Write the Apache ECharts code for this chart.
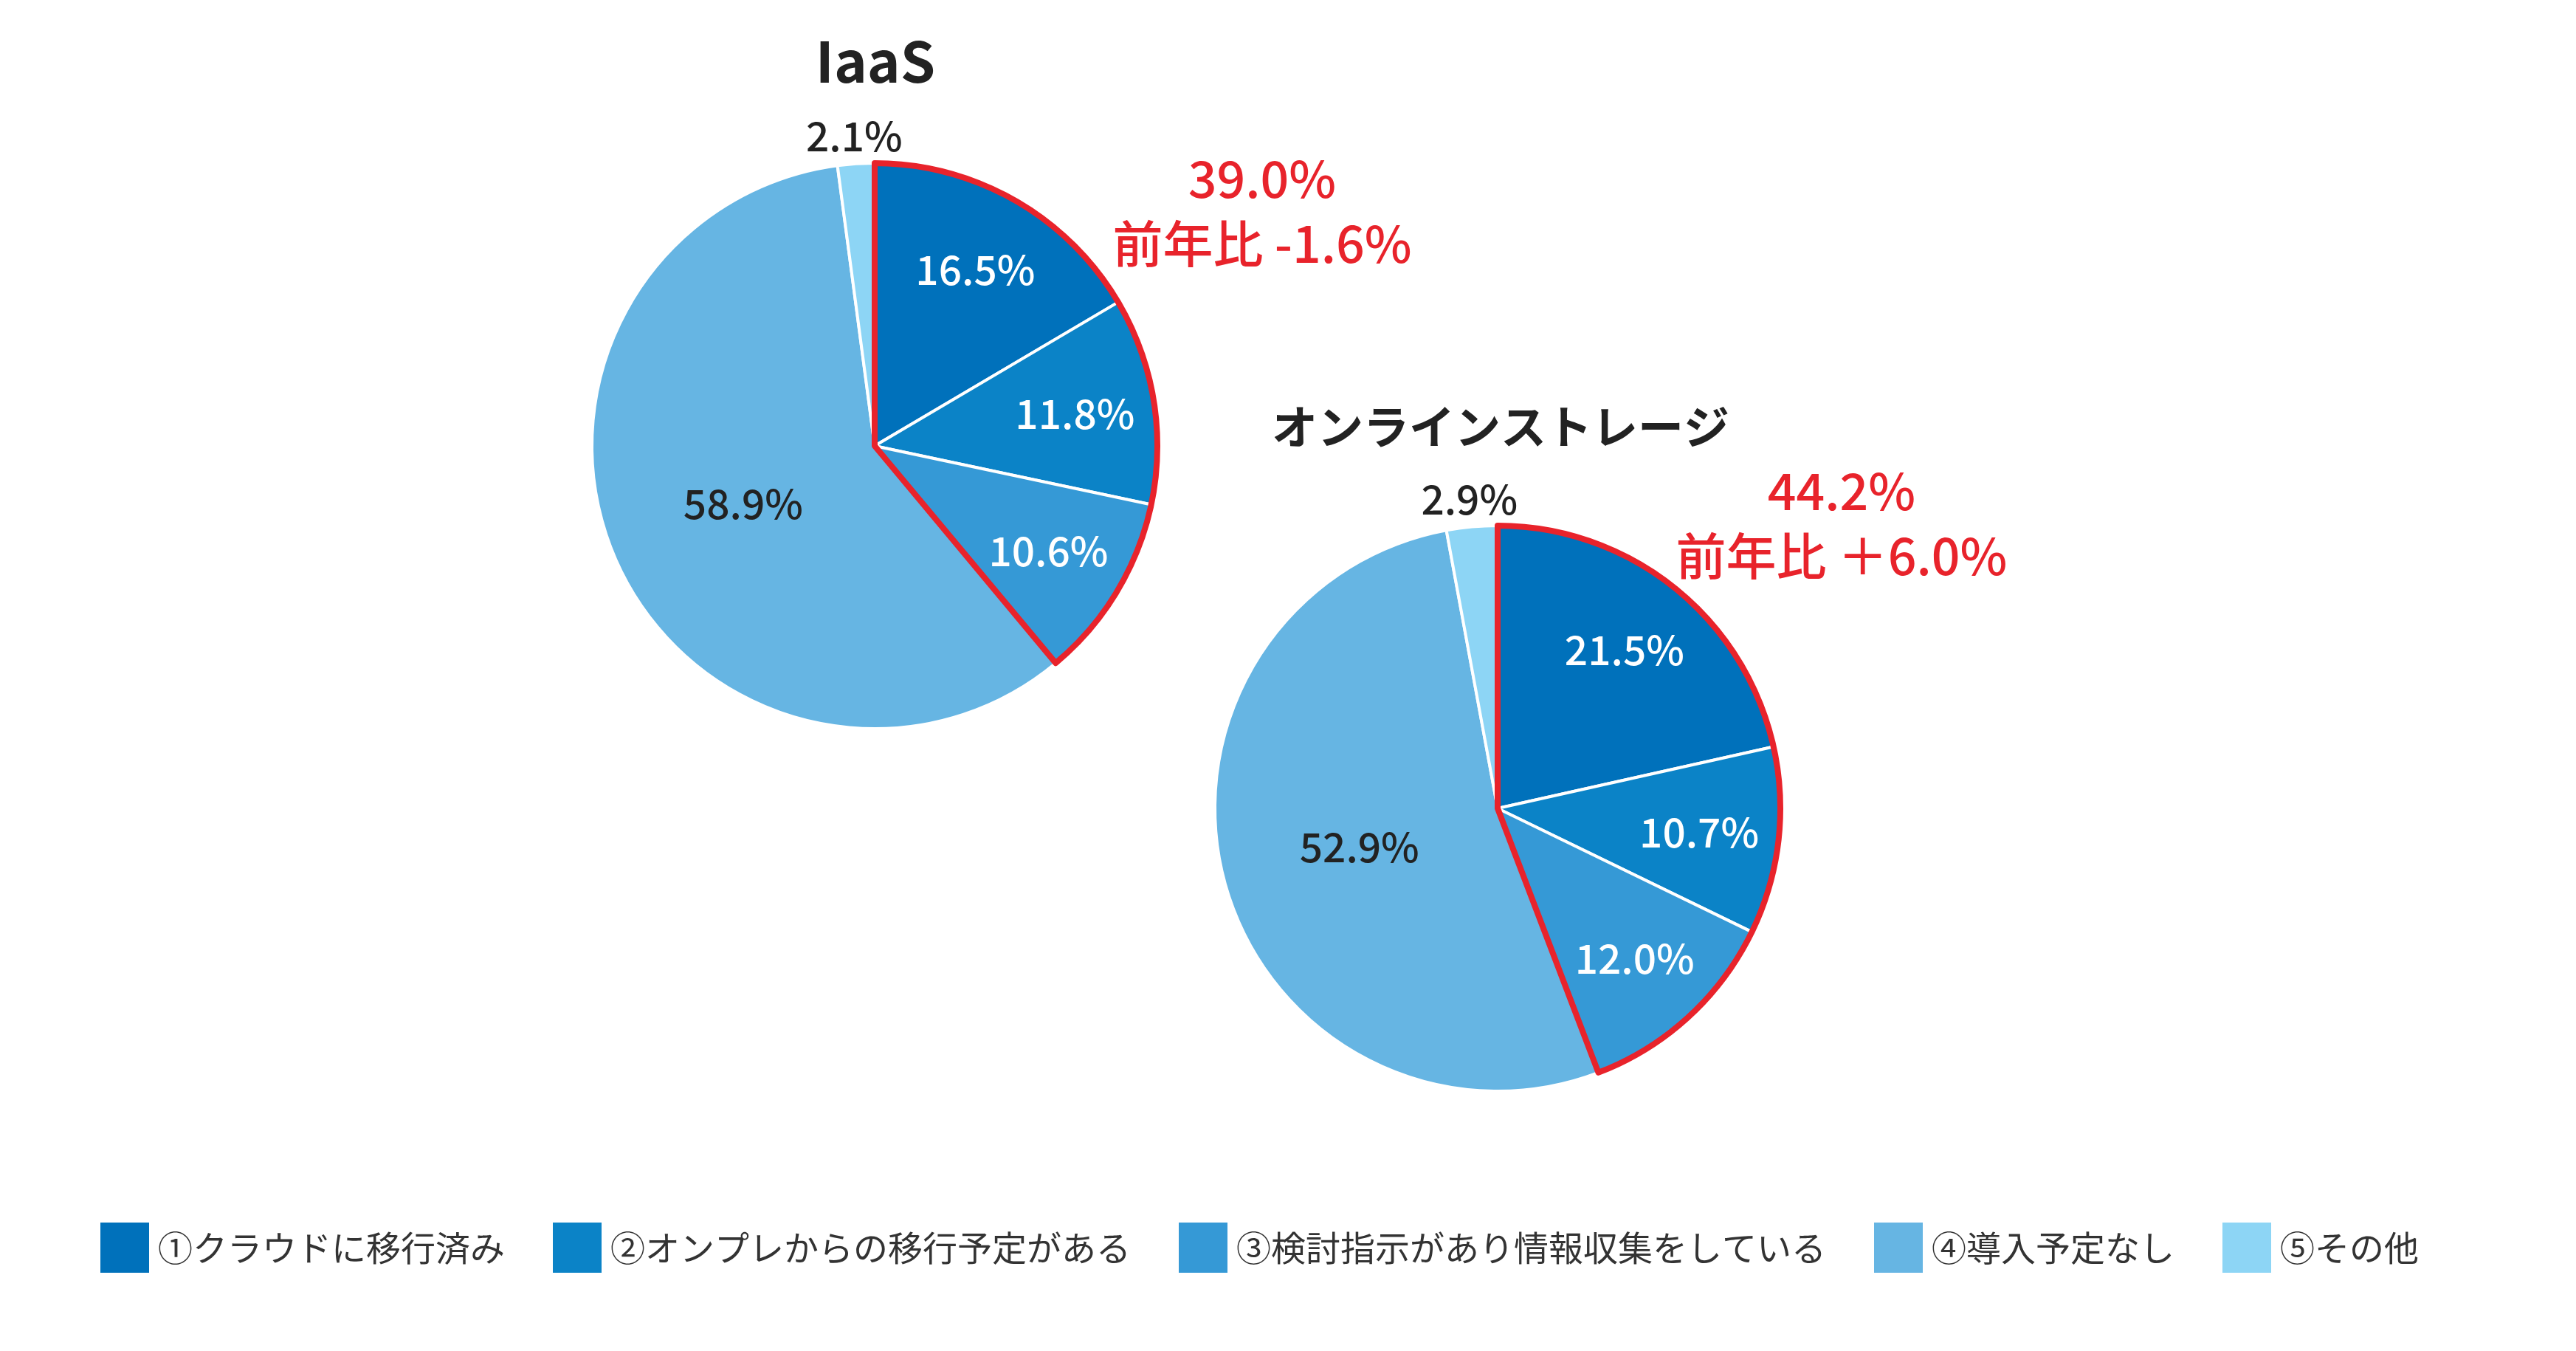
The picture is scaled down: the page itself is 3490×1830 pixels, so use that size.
<!DOCTYPE html>
<html>
<head>
<meta charset="utf-8">
<script src="https://cdn.jsdelivr.net/npm/echarts@6/dist/echarts.min.js"></script>
<style>
  html, body { margin: 0; padding: 0; background: #fff; }
  #chart { width: 3490px; height: 1830px; }
</style>
</head>
<body>
<div id="chart"></div>
<script>
const categories = ['①クラウドに移行済み', '②オンプレからの移行予定がある', '③検討指示があり情報収集をしている', '④導入予定なし', '⑤その他'];
const iaasValues = [16.5, 11.8, 10.6, 58.9, 2.1];
const storageValues = [21.5, 10.7, 12.0, 52.9, 2.9];
const chartTitles = ['IaaS', 'オンラインストレージ'];
const groupTotals = ['39.0%', '44.2%'];
const yoyChanges = ['-1.6%', '＋6.0%'];

const sliceColors = ['#0071bb', '#0b83c7', '#3599d6', '#66b5e3', '#8dd5f5'];
const font = '"Noto Sans CJK JP", "Noto Sans", sans-serif';
const R = 383;

function pct(p) {
  return p.value.toFixed(1) + '%';
}

// one pie = main slices + transparent copies that only carry labels at other radii + red outline
function pieSeries(values, center) {
  const inner = values.slice(0, 3).reduce((a, b) => a + b, 0);
  const rest = values.slice(3).reduce((a, b) => a + b, 0);
  const labelCopy = (radius, show, color) => ({
    type: 'pie',
    center: center,
    radius: radius,
    silent: true,
    avoidLabelOverlap: false,
    itemStyle: { color: 'transparent' },
    label: { position: 'inside', color: color, fontSize: 55, fontWeight: 500, fontFamily: font, formatter: pct },
    labelLine: { show: false },
    data: values.map((v, i) => ({ name: categories[i], value: v, label: { show: show(i) } }))
  });
  return [
    {
      type: 'pie',
      center: center,
      radius: R,
      silent: true,
      avoidLabelOverlap: false,
      itemStyle: { borderColor: '#fff', borderWidth: 4 },
      label: { position: 'inside', color: '#222', fontSize: 55, fontWeight: 500, fontFamily: font, formatter: pct },
      labelLine: { show: false },
      data: values.map((v, i) => ({
        name: categories[i],
        value: v,
        itemStyle: { color: sliceColors[i] },
        label: { show: i === 3 }
      }))
    },
    labelCopy(R * 1.42, i => i < 3, '#fff'),
    labelCopy(R * 2.18, i => i === 4, '#222'),
    {
      type: 'pie',
      center: center,
      radius: R,
      silent: true,
      z: 5,
      label: { show: false },
      labelLine: { show: false },
      data: [
        { name: 'group', value: inner, itemStyle: { color: 'transparent', borderColor: '#e8232b', borderWidth: 8 } },
        { name: 'other', value: rest, itemStyle: { color: 'transparent', borderWidth: 0 } }
      ]
    }
  ];
}

const chart = echarts.init(document.getElementById('chart'));
const option = {
  backgroundColor: '#fff',
  title: [
    { text: chartTitles[0], left: 1181, top: 40, textAlign: 'center',
      textStyle: { fontSize: 76, fontWeight: 'bold', color: '#222', fontFamily: font } },
    { text: chartTitles[1], left: 2028, top: 542, textAlign: 'center',
      textStyle: { fontSize: 62, fontWeight: 'bold', color: '#222', fontFamily: font } },
    { text: groupTotals[0] + '\n前年比 ' + yoyChanges[0], left: 1705, top: 193, textAlign: 'center',
      textStyle: { fontSize: 68, fontWeight: 500, color: '#e8232b', lineHeight: 88, fontFamily: font } },
    { text: groupTotals[1] + '\n前年比 ' + yoyChanges[1], left: 2490, top: 616, textAlign: 'center',
      textStyle: { fontSize: 68, fontWeight: 500, color: '#e8232b', lineHeight: 88, fontFamily: font } }
  ],
  legend: {
    data: categories,
    left: 134,
    top: 1654,
    padding: 0,
    icon: 'rect',
    itemWidth: 68,
    itemHeight: 70,
    itemGap: 63,
    selectedMode: false,
    textStyle: { fontSize: 47, color: '#333', fontFamily: font, padding: [0, 0, 0, 6] }
  },
  series: [].concat(
    pieSeries(iaasValues, [1185, 604]),
    pieSeries(storageValues, [2029, 1095])
  )
};
chart.setOption(option);
</script>
</body>
</html>
